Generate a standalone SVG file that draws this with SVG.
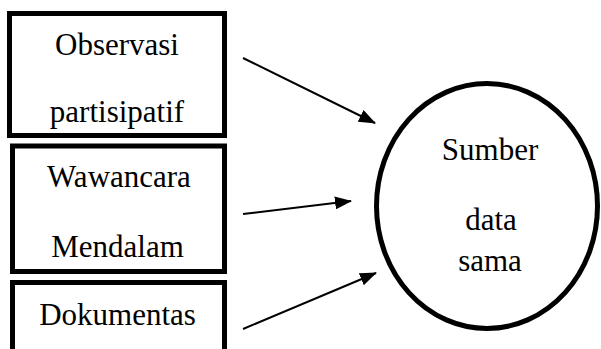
<svg xmlns="http://www.w3.org/2000/svg" width="601" height="349" viewBox="0 0 601 349">
<style>
.box{fill:#fff;stroke:#000;stroke-width:5}
.t{font-family:'Liberation Serif', 'DejaVu Serif', serif;font-size:31px;fill:#000;text-anchor:middle}
.c{stroke:#000;stroke-width:2;fill:none;marker-end:url(#ah)}
</style>
<defs>
<marker id="ah" markerWidth="17" markerHeight="13" refX="16" refY="6.5" orient="auto" markerUnits="userSpaceOnUse">
<path d="M0,0 L17,6.5 L0,13 Z" fill="#000"/>
</marker>
</defs>
<rect width="601" height="349" fill="#fff"/>
<g id="node-observasi">
<rect class="box" x="9.5" y="13.5" width="215" height="122"/>
<text class="t" x="117" y="55">Observasi</text>
<text class="t" x="117" y="122">partisipatif</text>
</g>
<g id="node-wawancara">
<rect class="box" x="12.5" y="146" width="212" height="125.5"/>
<text class="t" x="119" y="187">Wawancara</text>
<text class="t" x="117.5" y="257">Mendalam</text>
</g>
<g id="node-dokumentas">
<rect class="box" x="12.5" y="282.5" width="212" height="90"/>
<text class="t" x="117.5" y="325">Dokumentas</text>
</g>
<g id="node-sumber">
<ellipse cx="487" cy="206" rx="110.5" ry="122.5" fill="#fff" stroke="#000" stroke-width="5"/>
<text class="t" x="490" y="160">Sumber</text>
<text class="t" x="491" y="230">data</text>
<text class="t" x="490" y="271">sama</text>
</g>
<g id="connectors">
<line class="c" x1="243" y1="58" x2="375" y2="123"/>
<line class="c" x1="243" y1="214" x2="351" y2="201"/>
<line class="c" x1="243" y1="329" x2="376" y2="273"/>
</g>
</svg>
